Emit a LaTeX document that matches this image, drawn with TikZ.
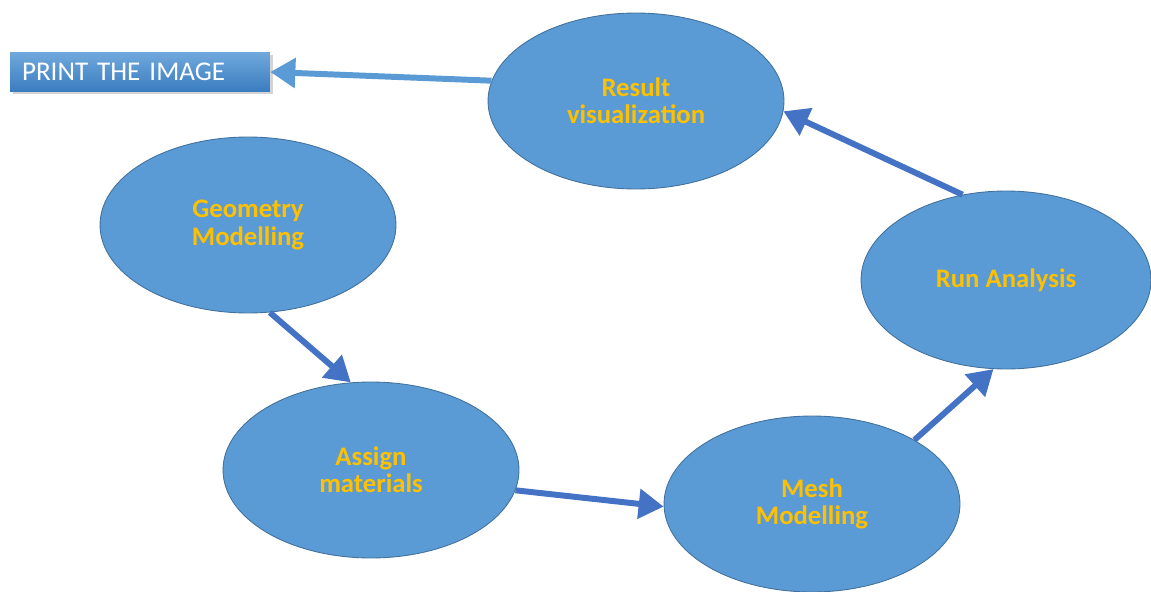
\documentclass[tikz,border=0pt]{standalone}
\usepackage{fontspec}
\setmainfont{Carlito}
\usepackage{tikz}
\usetikzlibrary{arrows.meta,shapes.geometric,shadows}
\definecolor{ovfill}{HTML}{5B9BD5}
\definecolor{ovline}{HTML}{41719C}
\definecolor{arblue}{HTML}{4472C4}
\definecolor{lbltxt}{HTML}{FFC000}
\definecolor{prtop}{HTML}{6FA8DC}
\definecolor{prbot}{HTML}{3A7DC0}

\begin{document}
\begin{tikzpicture}[x=0.02cm,y=-0.02cm,
  phase/.style={ellipse,draw=ovline,fill=ovfill,line width=0.5pt,
              minimum width=5.92cm,minimum height=3.52cm,inner sep=0pt,
              align=center,text=lbltxt,
              font=\fontsize{15.2}{15.4}\selectfont\bfseries},
  printbox/.style={rectangle,top color=prtop,bottom color=prbot,draw=none,
              minimum width=5.2cm,minimum height=0.78cm,inner xsep=0.24cm,
              text width=4.72cm,align=left,text=white,
              font=\fontsize{15.4}{15.6}\selectfont,
              drop shadow={shadow xshift=1.5pt,shadow yshift=-1.5pt,opacity=0.35}},
  arrow/.style={-{Triangle[length=0.5cm,width=0.58cm]},draw=arblue,line width=3.4pt},
  backarrow/.style={arrow,draw=ovfill}]
\useasboundingbox (0,0) rectangle (1151,591);

\node[phase] (res) at (636,101) {Result\\visualization};
\node[phase] (geo) at (248,225) {Geometry\\Modelling};
\node[phase] (asg) at (371,470) {Assign\\materials};
\node[phase] (mesh) at (812,504) {Mesh\\Modelling};
\node[phase,minimum width=5.8cm,minimum height=3.56cm] (run) at (1006,280) {Run Analysis};
\node[printbox] (print) at (140,72) {PRINT THE IMAGE};

\draw[arrow] (geo.-76) -- (asg.103);
\draw[arrow] (asg.-8) -- (mesh.181);
\draw[arrow] (mesh.32) -- (run.-98);
\draw[arrow] (run.117) -- (res.-4);
\draw[backarrow] (res.172) -- (print.east);
\end{tikzpicture}
\end{document}
